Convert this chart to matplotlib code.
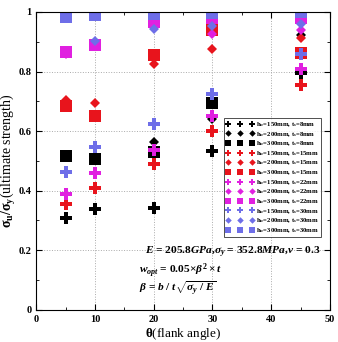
import matplotlib
matplotlib.use("Agg")
import matplotlib.pyplot as plt
from matplotlib.ticker import MultipleLocator, FormatStrFormatter

plt.rcParams["font.family"] = ["Liberation Serif", "DejaVu Serif"]
plt.rcParams["font.weight"] = "bold"
plt.rcParams["mathtext.fontset"] = "custom"
plt.rcParams["mathtext.rm"] = "Liberation Serif:bold"
plt.rcParams["mathtext.it"] = "Liberation Serif:italic:bold"
plt.rcParams["mathtext.bf"] = "Liberation Serif:bold"

# flank angles
angles = [5, 10, 20, 30, 45]

# ultimate strength ratio for each h_w / t_s combination
b150_t8 = [0.31, 0.337, 0.341, 0.534, 0.796]
b200_t8 = [0.515, 0.51, 0.564, 0.64, 0.922]
b300_t8 = [0.517, 0.508, 0.53, 0.693, 0.98]
b150_t15 = [0.355, 0.41, 0.489, 0.60, 0.754]
b200_t15 = [0.704, 0.693, 0.825, 0.875, 0.914]
b300_t15 = [0.684, 0.651, 0.855, 0.94, 0.862]
b150_t22 = [0.39, 0.459, 0.536, 0.651, 0.81]
b200_t22 = [0.858, 0.89, 0.96, 0.925, 0.939]
b300_t22 = [0.864, 0.888, 0.966, 0.98, 0.98]
b150_t30 = [0.464, 0.547, 0.623, 0.723, 0.86]
b200_t30 = [0.98, 0.903, 0.942, 0.953, 0.959]
b300_t30 = [0.983, 0.989, 0.994, 0.997, 1.0]

series = [
    (b150_t8, "P", "black", "8"), (b200_t8, "D", "black", "8"), (b300_t8, "s", "black", "8"),
    (b150_t15, "P", "#e8141c", "15"), (b200_t15, "D", "#e8141c", "15"), (b300_t15, "s", "#e8141c", "15"),
    (b150_t22, "P", "#e020e0", "22"), (b200_t22, "D", "#e020e0", "22"), (b300_t22, "s", "#e020e0", "22"),
    (b150_t30, "P", "#6e6ee8", "30"), (b200_t30, "D", "#6e6ee8", "30"), (b300_t30, "s", "#6e6ee8", "30"),
]
hw = {"P": "150", "D": "200", "s": "300"}
sizes = {"P": 8, "D": 5.5, "s": 8}

fig = plt.figure(figsize=(3.38, 3.42), dpi=100)
ax = fig.add_axes([0.107, 0.094, 0.869, 0.871])

for vals, mk, col, ts in series:
    ax.plot(angles, vals, linestyle="none", marker=mk, color=col,
            markersize=sizes[mk], markeredgewidth=0,
            label=r"h$_w$=" + hw[mk] + "mm, t$_s$=" + ts + "mm")

ax.set_xlim(0, 50)
ax.set_ylim(0, 1)
ax.xaxis.set_major_locator(MultipleLocator(10))
ax.xaxis.set_minor_locator(MultipleLocator(5))
ax.yaxis.set_major_locator(MultipleLocator(0.2))
ax.yaxis.set_minor_locator(MultipleLocator(0.1))
ax.xaxis.set_major_formatter(FormatStrFormatter("%g"))
ax.yaxis.set_major_formatter(FormatStrFormatter("%g"))
ax.tick_params(which="both", direction="in", top=True, right=True, labelsize=7.5)
ax.tick_params(which="major", length=4)
ax.tick_params(which="minor", length=2)
ax.grid(True, which="major", linestyle=":", color="#aaaaaa", linewidth=0.7)

ax.set_xlabel(r"$\mathrm{\theta}$(flank angle)", fontsize=9.5, labelpad=2)
ax.set_ylabel(r"$\mathrm{\sigma_u/\sigma_y}$(ultimate strength)", fontsize=10, labelpad=0)

leg = ax.legend(loc="upper left", bbox_to_anchor=(0.64, 0.645), numpoints=3,
                fontsize=4.8, frameon=True, fancybox=False, edgecolor="black",
                markerscale=0.6, handlelength=4.2, handletextpad=0.2,
                labelspacing=0.12, borderpad=0.35, borderaxespad=0)
leg.get_frame().set_linewidth(0.6)

ax.text(0.37, 0.185, r"$E$ = 205.8$GPa$,$\sigma_y$ = 352.8$MPa$,$\nu$ = 0.3",
        transform=ax.transAxes, fontsize=8.2)
ax.text(0.35, 0.123, r"$w_{opt}$ = 0.05$\times\beta^2\times t$",
        transform=ax.transAxes, fontsize=8.2)
ax.text(0.35, 0.06, r"$\beta$ = $b$ / $t\sqrt{\sigma_y\ /\ E}$",
        transform=ax.transAxes, fontsize=8.2)

fig.savefig("out.png", dpi=100)
